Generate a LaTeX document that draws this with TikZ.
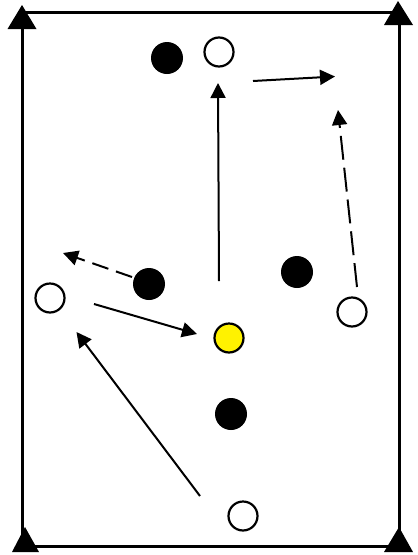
\documentclass[tikz,border=0pt]{standalone}
\usepackage{xcolor}
\usepackage{tikz}
\usetikzlibrary{arrows.meta}

\begin{document}
\begin{tikzpicture}[x=1pt,y=-1pt,>={Triangle[length=15pt,width=15pt]},
    attacker/.style={circle,draw,line width=2.2pt,fill=white,minimum size=29pt,inner sep=0pt},
    defender/.style={circle,fill=black,minimum size=32pt,inner sep=0pt},
    ball/.style={circle,draw,line width=2.2pt,fill=yellow,minimum size=29pt,inner sep=0pt},
    run/.style={->,line width=2pt},
    pass/.style={->,line width=2pt,dash pattern=on 24pt off 8pt}]
        \useasboundingbox (0,0) rectangle (418,555);
        % field
        \draw[line width=3pt] (22,12) rectangle (399,546);
        \fill (22,5) -- (36.5,29) -- (7.5,29) -- cycle;
        \fill (398,1) -- (413,25) -- (384,25) -- cycle;
        \fill (25,527) -- (39,552) -- (12,552) -- cycle;
        \fill (399,527) -- (413,552) -- (384,552) -- cycle;
        % players
        \node[defender](d_top) at (167,58){};
        \node[attacker](a_top) at (219,52){};
        \node[defender](d_mid) at (149,284){};
        \node[defender](d_right) at (297,272){};
        \node[attacker](a_left) at (50,298){};
        \node[attacker](a_right) at (352,312){};
        \node[ball](a_ball) at (229,338){};
        \node[defender](d_low) at (231,414){};
        \node[attacker](a_low) at (243,516){};
        % movements
        \coordinate (s1) at (219,281);
        \coordinate (e1) at (218,83);
        \coordinate (s2) at (253,81);
        \coordinate (e2) at (335,76.5);
        \coordinate (s3) at (357,287);
        \coordinate (e3) at (338,110);
        \coordinate (s4) at (132,277);
        \coordinate (e4) at (63,253);
        \coordinate (s5) at (94,304);
        \coordinate (e5) at (197,334);
        \coordinate (s6) at (200,496);
        \coordinate (e6) at (76.5,332);
        \draw[run] (s1) -- (e1);
        \draw[run] (s2) -- (e2);
        \draw[pass] (s3) -- (e3);
        \draw[pass,dash pattern=on 17pt off 8pt] (s4) -- (e4);
        \draw[run] (s5) -- (e5);
        \draw[run] (s6) -- (e6);
\end{tikzpicture}
\end{document}
